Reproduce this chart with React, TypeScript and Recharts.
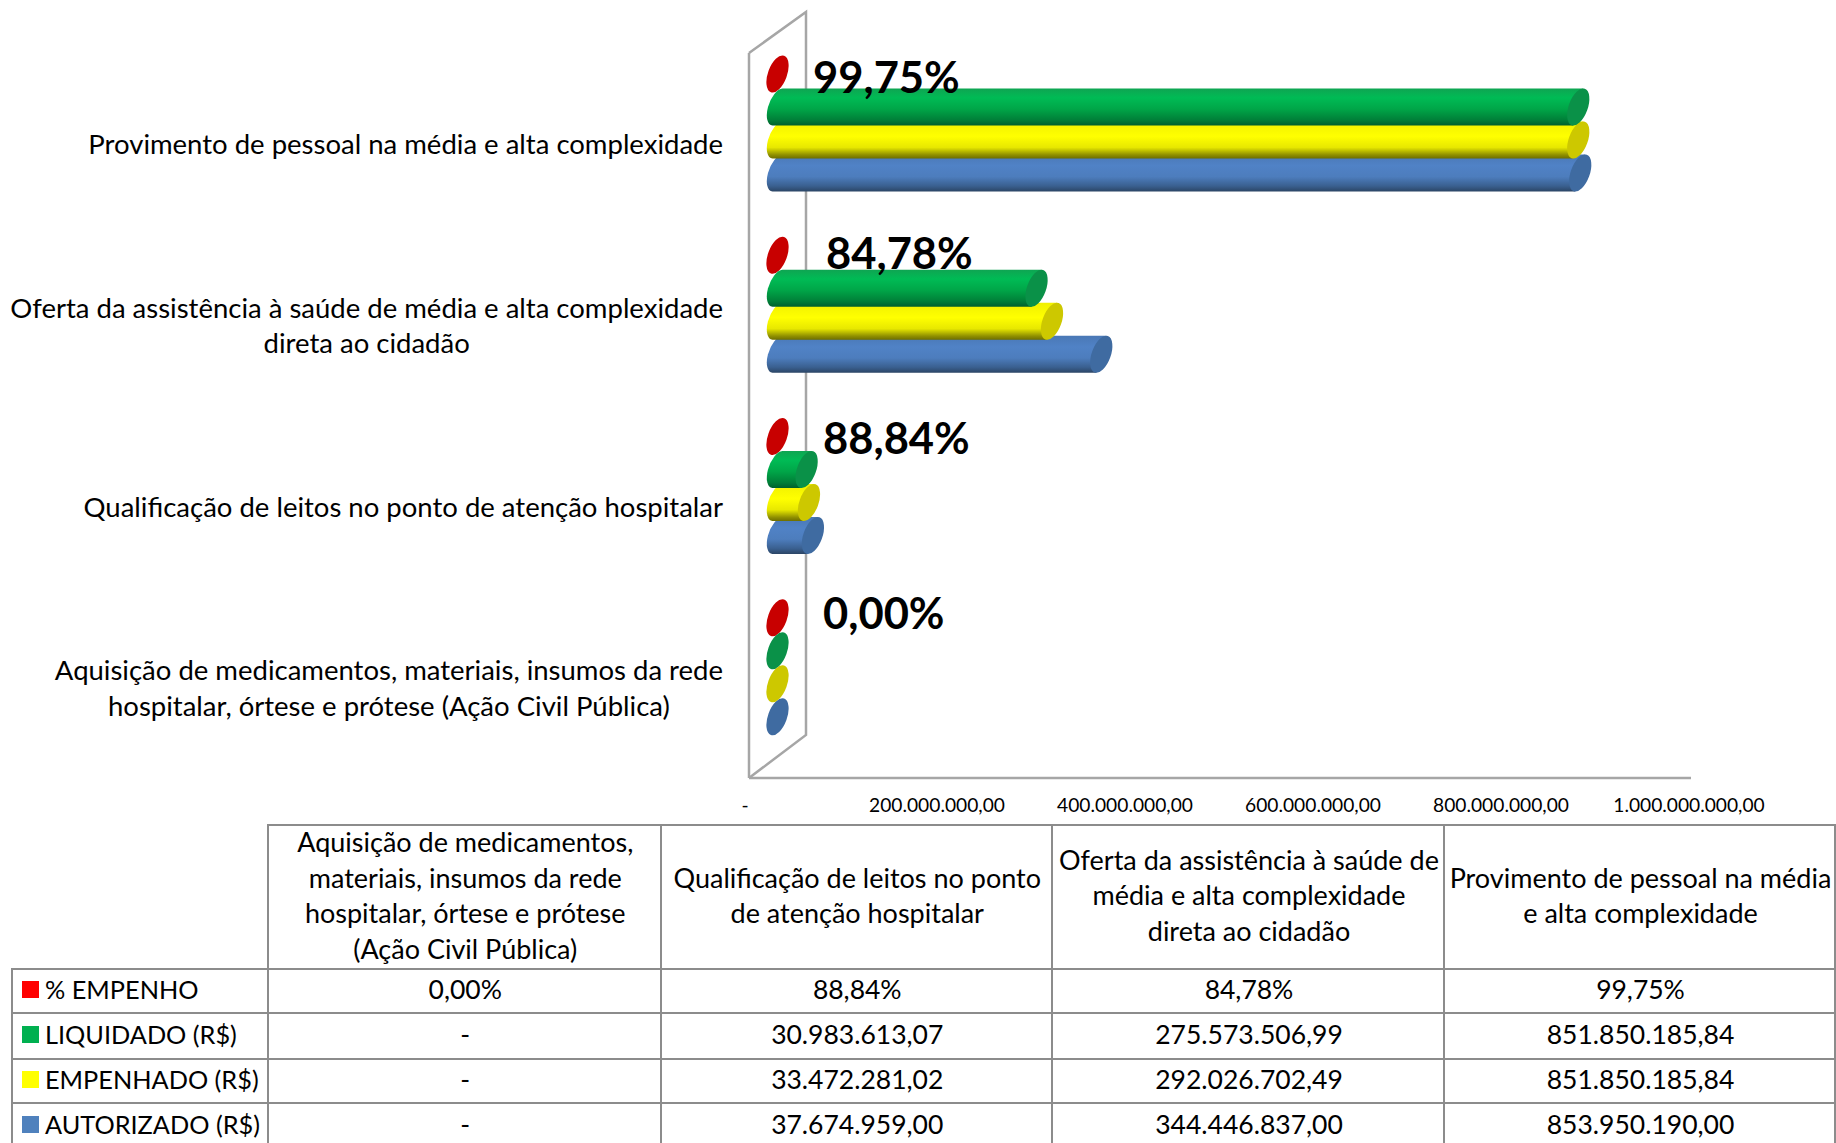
import React from 'react';
import { BarChart, Bar, XAxis, YAxis, LabelList, Customized } from 'recharts';

const categories = [
  'Aquisição de medicamentos, materiais, insumos da rede hospitalar, órtese e prótese (Ação Civil Pública)',
  'Qualificação de leitos no ponto de atenção hospitalar',
  'Oferta da assistência à saúde de média e alta complexidade direta ao cidadão',
  'Provimento de pessoal na média e alta complexidade',
];
const empenhoPct = [0, 88.84, 84.78, 99.75];
const liquidado = [0, 30983613.07, 275573506.99, 851850185.84];
const empenhado = [0, 33472281.02, 292026702.49, 851850185.84];
const autorizado = [0, 37674959.0, 344446837.0, 853950190.0];
const xTicks = [0, 200000000, 400000000, 600000000, 800000000, 1000000000];

const axisLabelLines = [
  ['Aquisição de medicamentos, materiais, insumos da rede', 'hospitalar, órtese e prótese (Ação Civil Pública)'],
  ['Qualificação de leitos no ponto de atenção hospitalar'],
  ['Oferta da assistência à saúde de média e alta complexidade', 'direta ao cidadão'],
  ['Provimento de pessoal na média e alta complexidade'],
];
const headerLines = [
  ['Aquisição de medicamentos,', 'materiais, insumos da rede', 'hospitalar, órtese e prótese', '(Ação Civil Pública)'],
  ['Qualificação de leitos no ponto', 'de atenção hospitalar'],
  ['Oferta da assistência à saúde de', 'média e alta complexidade', 'direta ao cidadão'],
  ['Provimento de pessoal na média', 'e alta complexidade'],
];
const seriesNames = ['% EMPENHO', 'LIQUIDADO (R$)', 'EMPENHADO (R$)', 'AUTORIZADO (R$)'];
const legendColors = ['#ff0000', '#00b050', '#ffff00', '#4f81bd'];

const chartData = categories
  .map((category, i) => ({
    category,
    pct: empenhoPct[i],
    liquidado: liquidado[i],
    empenhado: empenhado[i],
    autorizado: autorizado[i],
  }))
  .reverse();

const FONT = 'Lato, Carlito, Calibri, sans-serif';
const AXIS_SIZE = 27.5;
const HEADER_SIZE = 27;
const VALUE_SIZE = 26.5;
const LEGEND_SIZE = 25.3;
const PLOT = { left: 749, right: 1689, top: 53, bottom: 778 };
const DEPTH_X = 28.5;
const DEPTH_Y = -20.5;
const COL_X = [11, 267, 659.5, 1051, 1443, 1834];
const ROW_Y = [823.5, 967.5, 1012, 1057.5, 1102, 1148];
const LABEL_NUDGE = [
  { dx: 64, dy: 18.5 },
  { dx: 77, dy: 14 },
  { dx: 74, dy: 17 },
  { dx: 74, dy: 11 },
];

const money = (v: number) =>
  v === 0 ? '-' : v.toLocaleString('pt-BR', { minimumFractionDigits: 2, maximumFractionDigits: 2 });
const pct = (v: number) => v.toFixed(2).replace('.', ',') + '%';

let measureCtx: CanvasRenderingContext2D | null = null;
function measure(text: string, size: number) {
  if (!measureCtx) measureCtx = document.createElement('canvas').getContext('2d');
  measureCtx!.font = `${size}px ${FONT}`;
  return measureCtx!.measureText(text).width;
}

function makeCylinder(gradientId: string, capColor: string) {
  return function Cylinder(props: any) {
    const { x, y, width, height } = props;
    const cy = y + height / 2 + DEPTH_Y;
    const x0 = x + DEPTH_X;
    const x1 = x + width + DEPTH_X;
    const tx = 5;
    const ty = 18.5;
    const body = `M ${x0 + tx} ${cy - ty} L ${x1 + tx} ${cy - ty} L ${x1 - tx} ${cy + ty} L ${x0 - tx} ${cy + ty} A 9.5 19.4 20 0 1 ${x0 + tx} ${cy - ty} Z`;
    return (
      <g>
        {width > 1 && <path d={body} fill={`url(#${gradientId})`} />}
        <ellipse cx={x1} cy={cy} rx={9.5} ry={19.4} transform={`rotate(20 ${x1} ${cy})`} fill={capColor} />
      </g>
    );
  };
}

const RedShape = makeCylinder('gradRed', '#c80000');
const GreenShape = makeCylinder('gradGreen', '#0a9148');
const YellowShape = makeCylinder('gradYellow', '#cdc800');
const BlueShape = makeCylinder('gradBlue', '#3f6ba1');

function Wall() {
  return (
    <g fill="none" stroke="#a6a6a6" strokeWidth={2.5}>
      <polyline
        points={`${PLOT.left},${PLOT.top} ${PLOT.left + 57},${PLOT.top - 41} ${PLOT.left + 57},${PLOT.bottom - 43} ${PLOT.left},${PLOT.bottom}`}
      />
      <line x1={PLOT.right} x2={PLOT.right + 2} y1={PLOT.bottom} y2={PLOT.bottom} />
    </g>
  );
}

function CategoryTick(props: any) {
  const { y, index } = props;
  const lines = axisLabelLines[chartData.length - 1 - index];
  const maxW = Math.max(...lines.map((l) => measure(l, AXIS_SIZE)));
  const cx = 723 - maxW / 2;
  return (
    <text textAnchor="middle" fontFamily={FONT} fontSize={AXIS_SIZE} fill="#000">
      {lines.map((l, i) => (
        <tspan key={i} x={cx} y={y + (i - (lines.length - 1) / 2) * 35.5 + 10.5}>
          {l}
        </tspan>
      ))}
    </text>
  );
}

function ValueTick(props: any) {
  const { x, y, payload } = props;
  return (
    <text x={payload.value === 0 ? x - 4 : x} y={y + 6} dy="0.71em" textAnchor="middle" fontFamily={FONT} fontSize={19.2} fill="#000">
      {money(payload.value)}
    </text>
  );
}

function PctLabel(props: any) {
  const { x, y, height, value, index } = props;
  const n = LABEL_NUDGE[index];
  return (
    <text x={x + n.dx} y={y + height / 2 + DEPTH_Y + n.dy} fontFamily={FONT} fontWeight={700} fontSize={43.5} fill="#000">
      {pct(value)}
    </text>
  );
}

function Cell(props: { x0: number; x1: number; y0: number; y1: number; left?: boolean; size: number; children: React.ReactNode }) {
  const { x0, x1, y0, y1, children } = props;
  return (
    <div
      style={{
        position: 'absolute',
        left: x0,
        top: y0,
        width: x1 - x0,
        height: y1 - y0,
        boxSizing: 'border-box',
        borderLeft: '2px solid #8c8c8c',
        borderTop: '2px solid #8c8c8c',
        paddingBottom: 3,
        display: 'flex',
        flexDirection: 'column',
        alignItems: props.left ? 'flex-start' : 'center',
        justifyContent: 'center',
        textAlign: 'center',
        fontSize: props.size,
        lineHeight: '35.5px',
        whiteSpace: 'nowrap',
      }}
    >
      {children}
    </div>
  );
}

function DataTable() {
  const rows = [empenhoPct.map(pct), liquidado.map(money), empenhado.map(money), autorizado.map(money)];
  return (
    <div style={{ position: 'absolute', left: 0, top: 0, fontFamily: FONT, color: '#000' }}>
      {headerLines.map((lines, c) => (
        <Cell key={c} size={HEADER_SIZE} x0={COL_X[c + 1]} x1={COL_X[c + 2] + 2} y0={ROW_Y[0]} y1={ROW_Y[1]}>
          {lines.map((l, i) => (
            <div key={i}>{l}</div>
          ))}
        </Cell>
      ))}
      {seriesNames.map((name, r) => (
        <React.Fragment key={name}>
          <Cell left size={LEGEND_SIZE} x0={COL_X[0]} x1={COL_X[1]} y0={ROW_Y[r + 1]} y1={ROW_Y[r + 2]}>
            <div style={{ display: 'flex', alignItems: 'center', paddingLeft: 9 }}>
              <span style={{ display: 'inline-block', width: 17, height: 17, background: legendColors[r], marginRight: 6 }} />
              {name}
            </div>
          </Cell>
          {rows[r].map((v, c) => (
            <Cell key={c} size={VALUE_SIZE} x0={COL_X[c + 1]} x1={COL_X[c + 2] + 2} y0={ROW_Y[r + 1]} y1={ROW_Y[r + 2]}>
              {v}
            </Cell>
          ))}
        </React.Fragment>
      ))}
      <div style={{ position: 'absolute', left: COL_X[5], top: ROW_Y[0], width: 2, height: ROW_Y[5] - ROW_Y[0], background: '#8c8c8c' }} />
    </div>
  );
}

function grad(id: string, stops: [number, string][]) {
  return (
    <linearGradient id={id} x1="0" y1="0" x2="0" y2="1">
      {stops.map(([o, c]) => (
        <stop key={o} offset={o} stopColor={c} />
      ))}
    </linearGradient>
  );
}

export default function App() {
  return (
    <div style={{ position: 'absolute', left: 0, top: 0, width: 1836, height: 1143, overflow: 'hidden', background: '#fff' }}>
      <BarChart
        width={1836}
        height={824}
        data={chartData}
        layout="vertical"
        margin={{ left: 0, right: 1836 - PLOT.right, top: PLOT.top, bottom: 0 }}
        barSize={33}
        barGap={0}
      >
        <defs>
          {grad('gradRed', [[0, '#c80000'], [1, '#a00000']])}
          {grad('gradGreen', [[0, '#0fa552'], [0.25, '#00bb55'], [0.55, '#00a648'], [0.85, '#007f38'], [1, '#005f2c']])}
          {grad('gradYellow', [[0, '#f0f000'], [0.4, '#ffff00'], [0.7, '#e8e800'], [0.9, '#909000'], [1, '#6e6e00']])}
          {grad('gradBlue', [[0, '#4a78b5'], [0.3, '#5082c6'], [0.6, '#4d7dbd'], [0.85, '#3a6090'], [1, '#2b4565']])}
        </defs>
        <Customized component={Wall} />
        <XAxis
          type="number"
          domain={[0, 1000000000]}
          ticks={xTicks}
          tickLine={false}
          axisLine={{ stroke: '#a6a6a6', strokeWidth: 2.5 }}
          tick={<ValueTick />}
          height={46}
          tickMargin={8}
          interval={0}
        />
        <YAxis
          type="category"
          dataKey="category"
          width={PLOT.left}
          axisLine={{ stroke: '#a6a6a6', strokeWidth: 2.5 }}
          tickLine={false}
          tick={<CategoryTick />}
          interval={0}
        />
        <Bar dataKey="pct" shape={RedShape} isAnimationActive={false} zIndex={301}>
          <LabelList dataKey="pct" content={PctLabel} />
        </Bar>
        <Bar dataKey="liquidado" shape={GreenShape} isAnimationActive={false} zIndex={304} />
        <Bar dataKey="empenhado" shape={YellowShape} isAnimationActive={false} zIndex={303} />
        <Bar dataKey="autorizado" shape={BlueShape} isAnimationActive={false} zIndex={302} />
      </BarChart>
      <DataTable />
    </div>
  );
}
